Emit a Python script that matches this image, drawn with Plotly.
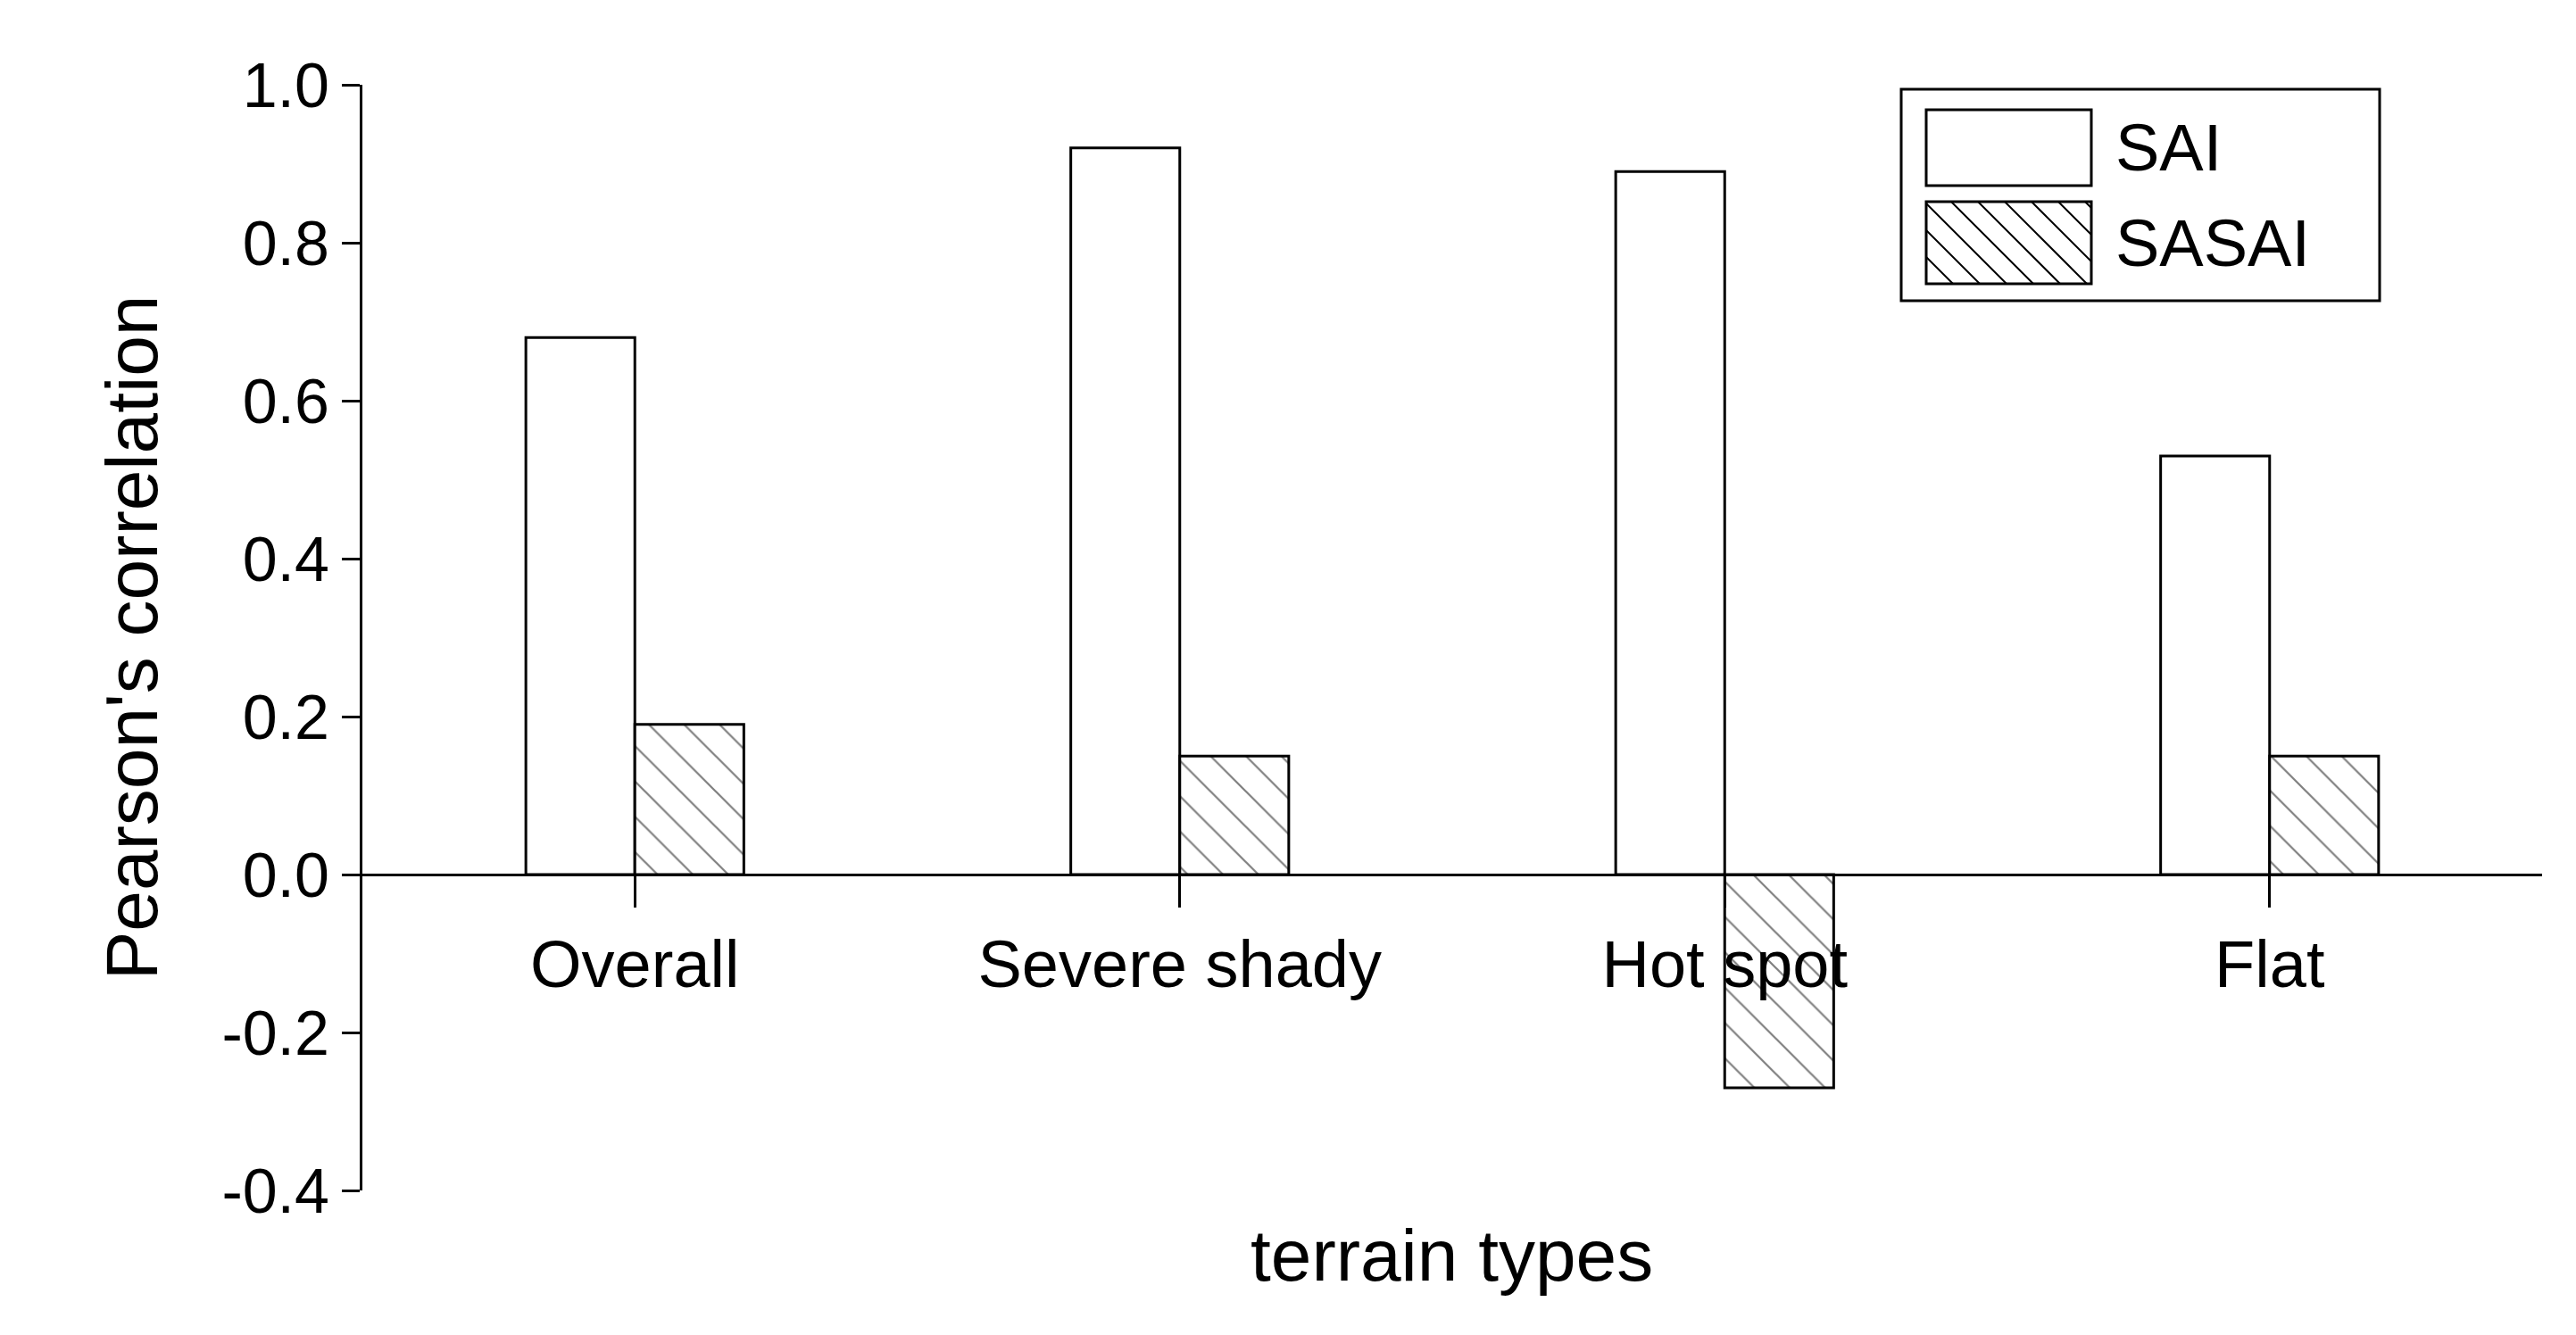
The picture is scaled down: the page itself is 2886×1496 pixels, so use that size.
import plotly.graph_objects as go

categories = ["Overall", "Severe shady", "Hot spot", "Flat"]
sai = [0.68, 0.92, 0.89, 0.53]
sasai = [0.19, 0.15, -0.27, 0.15]
yticks = [-0.4, -0.2, 0.0, 0.2, 0.4, 0.6, 0.8, 1.0]
series_names = ["SAI", "SASAI"]

F = "Liberation Sans, Arial, sans-serif"
L, R, T, B, W, H = 398, 46, 87, 170, 2886, 1496
PW, PH = W - L - R, H - T - B
def px(x): return (x - L) / PW
def py(y): return (H - B - y) / PH

fig = go.Figure()
fig.add_bar(x=categories, y=sai, name=series_names[0], showlegend=False,
            marker=dict(color="white", line=dict(color="black", width=3)))
fig.add_bar(x=categories, y=sasai, name=series_names[1], showlegend=False,
            marker=dict(color="white", line=dict(color="black", width=3),
                        pattern=dict(shape="\\", fgcolor="black", bgcolor="white", size=28, solidity=0.08)))

shapes = [dict(type="rect", xref="paper", yref="paper", x0=px(2122), x1=px(2658),
               y0=py(329), y1=py(92), line=dict(color="black", width=3), fillcolor="white", layer="above")]
sw = [(115, 200), (218, 310)]
x0s, x1s = 2150, 2335
for i, (t, b) in enumerate(sw):
    shapes.append(dict(type="rect", xref="paper", yref="paper", x0=px(x0s), x1=px(x1s),
                       y0=py(b), y1=py(t), line=dict(color="black", width=3), layer="above"))
hgt = sw[1][1] - sw[1][0]
s = -hgt
while s < x1s - x0s:
    # line from (s,0) to (s+hgt, hgt) clipped to [0, w]
    a, c = max(s, 0), min(s + hgt, x1s - x0s)
    if c > a:
        ya, yc = a - s, c - s
        shapes.append(dict(type="line", xref="paper", yref="paper",
                           x0=px(x0s + a), x1=px(x0s + c),
                           y0=py(sw[1][0] + ya), y1=py(sw[1][0] + yc),
                           line=dict(color="black", width=2), layer="above"))
    s += 30

ann = [dict(text="terrain types", xref="paper", yref="paper", x=px(1618), y=-0.02,
            xanchor="center", yanchor="top", showarrow=False, font=dict(size=82))]
for i, (t, b) in enumerate(sw):
    ann.append(dict(text=series_names[i], xref="paper", yref="paper", x=px(2360), y=py((t + b) / 2),
                    xanchor="left", yanchor="middle", showarrow=False, font=dict(size=74)))

fig.update_layout(
    width=W, height=H, paper_bgcolor="white", plot_bgcolor="white",
    margin=dict(l=L, r=R, t=T, b=B),
    barmode="group", bargap=0.6, bargroupgap=0,
    font=dict(family=F, color="black", size=70),
    xaxis=dict(range=[-0.5, 3.5], anchor="free", position=0.4/1.4,
               showline=True, linecolor="black", linewidth=3,
               ticks="outside", ticklen=35, tickwidth=3, tickcolor="black",
               tickfont=dict(size=74), showgrid=False),
    yaxis=dict(range=[-0.4, 1.0], tickvals=yticks, ticktext=[f"{v:.1f}" for v in yticks],
               showline=True, linecolor="black", linewidth=3,
               ticks="outside", ticklen=20, tickwidth=3, tickcolor="black",
               showgrid=False, zeroline=False,
               title=dict(text="Pearson's correlation", font=dict(size=82), standoff=45)),
    shapes=shapes, annotations=ann,
)
fig.write_html("out.html")
